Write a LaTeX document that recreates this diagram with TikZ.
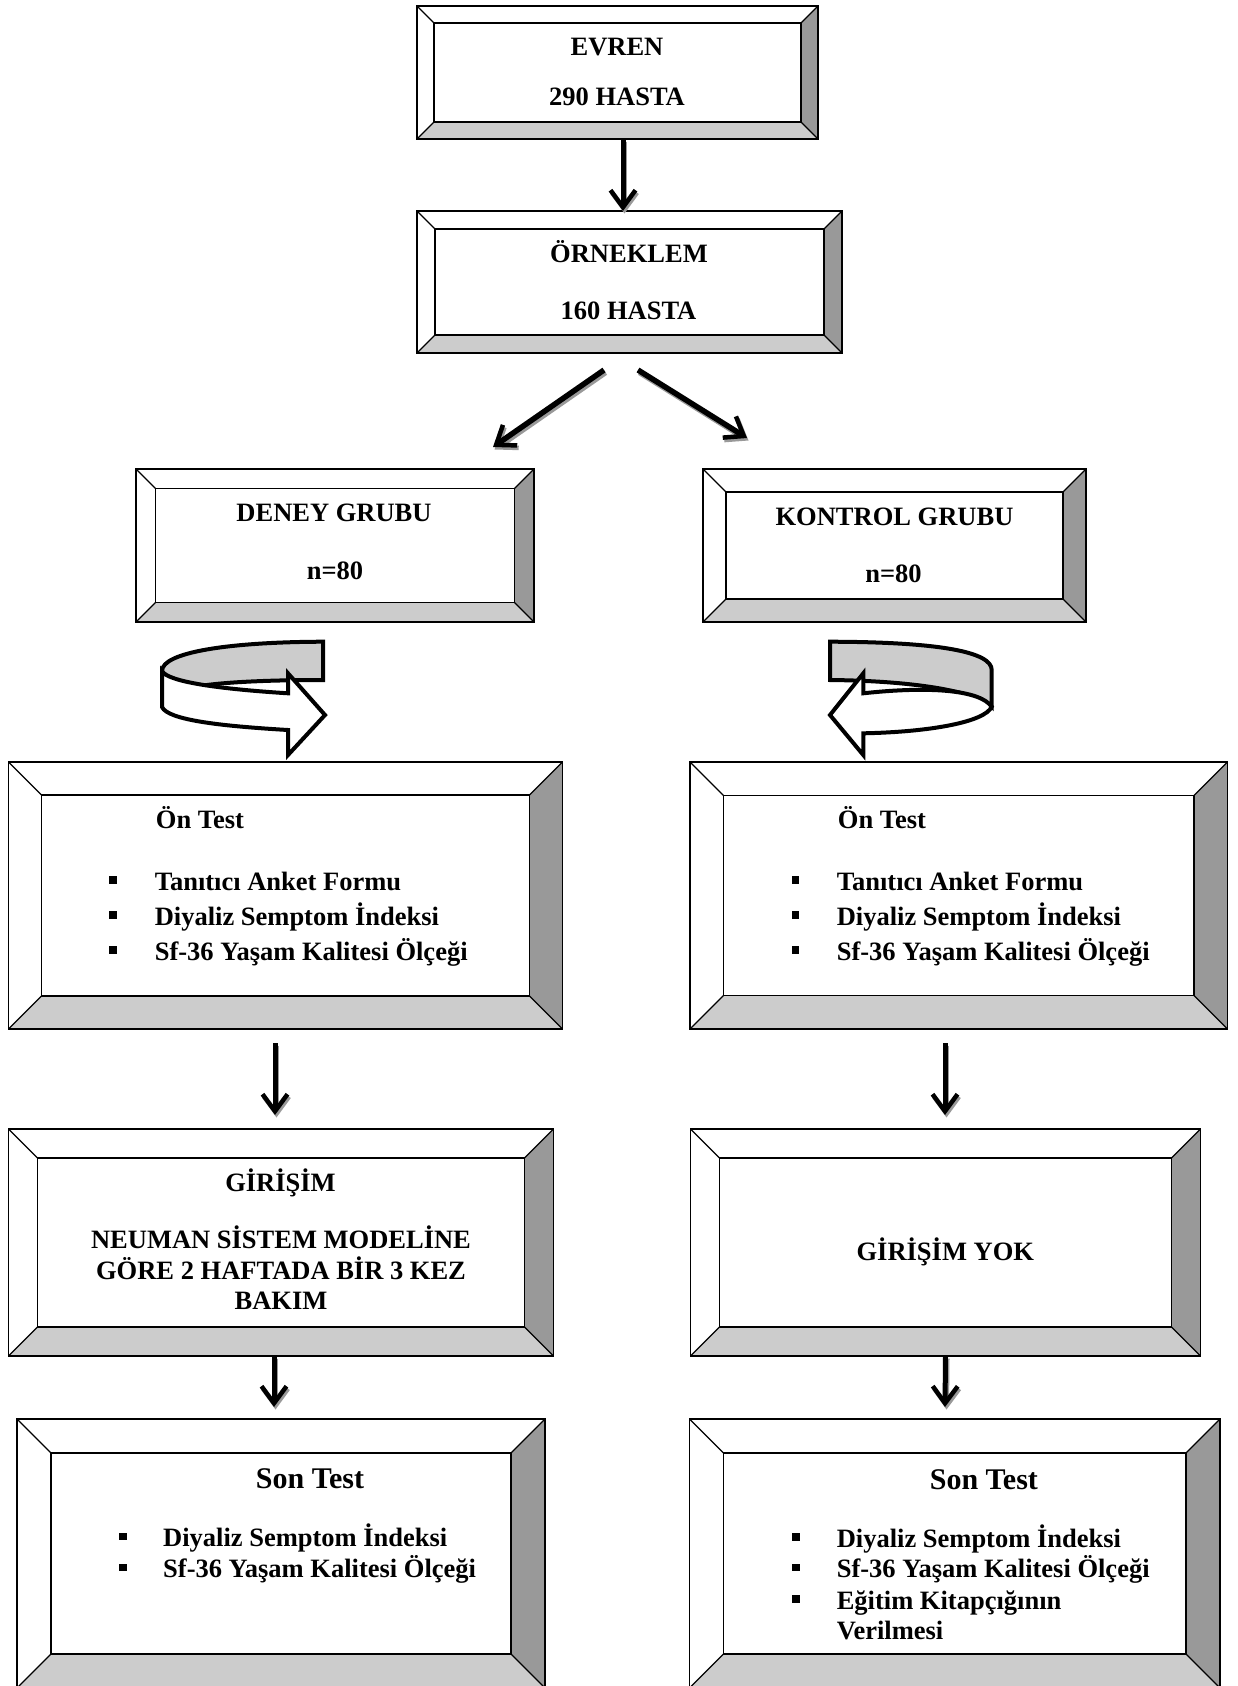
\documentclass[tikz,border=0pt]{standalone}
\usepackage{fontspec}
\setmainfont{Liberation Serif}
\usetikzlibrary{arrows.meta,fit}
\definecolor{rgray}{gray}{0.6}
\definecolor{bgray}{gray}{0.8}
\tikzset{
  boxline/.style={line width=1.9pt},
  bevline/.style={line width=1.2pt},
  txt/.style={font=\fontsize{26.5}{30}\selectfont\bfseries, inner sep=0pt},
  bigtxt/.style={font=\fontsize{30}{34}\selectfont\bfseries, inner sep=0pt},
  arr/.style={line width=5pt, -{Straight Barb[length=17pt,width=25pt,line width=4.5pt]}},
  arrsh/.style={arr, draw=black!40, transform canvas={shift={(1.5pt,-2.5pt)}}},
  ribbon/.style={line width=4pt, line join=miter, miter limit=6},
}
\newcommand\bevelbox[6]{%
  \fill[white] (#2,#3) rectangle (#4,#5);
  \fill[rgray] (#4,#3) -- (#4,#5) -- ({#4-#6},{#5-#6}) -- ({#4-#6},{#3+#6}) -- cycle;
  \fill[bgray] (#2,#5) -- (#4,#5) -- ({#4-#6},{#5-#6}) -- ({#2+#6},{#5-#6}) -- cycle;
  \draw[bevline] (#2,#3) -- ({#2+#6},{#3+#6}) (#4,#3) -- ({#4-#6},{#3+#6})
                 (#2,#5) -- ({#2+#6},{#5-#6}) (#4,#5) -- ({#4-#6},{#5-#6});
  \draw[boxline] ({#2+#6},{#3+#6}) rectangle ({#4-#6},{#5-#6});
  \draw[boxline] (#2,#3) rectangle (#4,#5);
  \node[fit={(#2,#3)(#4,#5)}, inner sep=0pt, outer sep=0pt] (#1) {};
}
\newcommand\sqbul[2]{\fill ({#1-3.75},{#2-3.75}) rectangle ({#1+3.75},{#2+3.75});}
\newcommand\sarrow[3][]{\draw[arrsh,#1] (#2) -- (#3); \draw[arr,#1] (#2) -- (#3);}
\begin{document}
\begin{tikzpicture}[x=1pt,y=-1pt]
\useasboundingbox (0,0) rectangle (1237,1686);
\clip (0,0) rectangle (1237,1686);
\fill[white] (0,0) rectangle (1237,1686);

% boxes
\bevelbox{evren}{417}{6}{818}{139}{17}
\bevelbox{orneklem}{417}{211}{842}{353}{18}
\bevelbox{deney}{136}{469}{534}{622}{19.5}
\bevelbox{kontrol}{703}{469}{1086}{622}{23}
\bevelbox{ontestL}{8.5}{762}{562.5}{1029}{33}
\bevelbox{ontestR}{690}{762}{1227.5}{1029}{33.5}
\bevelbox{girisim}{8.5}{1129}{553.5}{1356}{29}
\bevelbox{girisimyok}{690.5}{1129}{1200.5}{1356}{29}
\bevelbox{sontestL}{17}{1419}{545}{1688}{34}
\bevelbox{sontestR}{689.5}{1419}{1220}{1688}{34}

% texts
\node[txt, anchor=base] (t1) at (617,56) {EVREN};
\node[txt, anchor=base] (t2) at (617,105) {290 HASTA};
\node[txt, anchor=base] (t3) at (629,262.7) {ÖRNEKLEM};
\node[txt, anchor=base] (t4) at (628.5,319) {160 HASTA};
\node[txt, anchor=base] (t5) at (334,521.7) {DENEY GRUBU};
\node[txt, anchor=base] (t6) at (335,579) {n=80};
\node[txt, anchor=base] (t7) at (894.5,525) {KONTROL GRUBU};
\node[txt, anchor=base] (t8) at (893.5,582.7) {n=80};

\node[txt, anchor=base west] (t9) at (155.7,828) {Ön Test};
\node[txt, anchor=base west] (t10) at (154.6,890) {Tanıtıcı Anket Formu};
\node[txt, anchor=base west] (t11) at (154.6,925) {Diyaliz Semptom İndeksi};
\node[txt, anchor=base west] (t12) at (154.6,960) {Sf-36 Yaşam Kalitesi Ölçeği};
\sqbul{113}{880}\sqbul{113}{915}\sqbul{113}{950}

\node[txt, anchor=base west] (t13) at (837.7,828) {Ön Test};
\node[txt, anchor=base west] (t14) at (836.6,890) {Tanıtıcı Anket Formu};
\node[txt, anchor=base west] (t15) at (836.6,925) {Diyaliz Semptom İndeksi};
\node[txt, anchor=base west] (t16) at (836.6,960) {Sf-36 Yaşam Kalitesi Ölçeği};
\sqbul{795.7}{880}\sqbul{795.7}{915}\sqbul{795.7}{950}

\node[txt, anchor=base] (t17) at (280.5,1191) {GİRİŞİM};
\node[txt, anchor=base] (t18) at (281,1248) {NEUMAN SİSTEM MODELİNE};
\node[txt, anchor=base] (t19) at (281,1279) {GÖRE 2 HAFTADA BİR 3 KEZ};
\node[txt, anchor=base] (t20) at (281,1309) {BAKIM};
\node[txt, anchor=base] (t21) at (945.3,1260) {GİRİŞİM YOK};

\node[bigtxt, anchor=base] (t22) at (310,1488) {Son Test};
\node[txt, anchor=base west] (t23) at (163,1546.7) {Diyaliz Semptom İndeksi};
\node[txt, anchor=base west] (t24) at (163,1577.7) {Sf-36 Yaşam Kalitesi Ölçeği};
\sqbul{123}{1536.5}\sqbul{123}{1567.5}

\node[bigtxt, anchor=base] (t25) at (983.9,1489) {Son Test};
\node[txt, anchor=base west] (t26) at (836.6,1547) {Diyaliz Semptom İndeksi};
\node[txt, anchor=base west] (t27) at (836.6,1577.5) {Sf-36 Yaşam Kalitesi Ölçeği};
\node[txt, anchor=base west] (t28) at (836.6,1609) {Eğitim Kitapçığının};
\node[txt, anchor=base west] (t29) at (836.6,1639) {Verilmesi};
\sqbul{796}{1537}\sqbul{796}{1567.5}\sqbul{796}{1599}

% curved arrow left (deney)
\fill[bgray] (323,641.7) -- (323,680) .. controls (270,680) and (225,682) .. (200,686)
  -- (190,700) -- (162,700) -- (162,671) .. controls (162,652) and (230,642) .. (323,641.7) -- cycle;
\draw[ribbon] (162,671) .. controls (162,652) and (230,642) .. (323,641.7) -- (323,680)
  .. controls (270,680) and (225,682) .. (200,686);
\draw[ribbon, fill=white] (162,671) .. controls (168,682) and (220,689) .. (288,693.3)
  -- (288,673.3) -- (325,715) -- (288,755) -- (288,730)
  .. controls (220,726) and (168,720) .. (162,707) -- cycle;

% curved arrow right (kontrol)
\draw[ribbon, fill=bgray] (830,641.7) .. controls (940,642) and (991.7,652) .. (991.7,670)
  -- (991.7,706.7) .. controls (982,695) and (930,681) .. (830,680) -- cycle;
\draw[ribbon, fill=white] (863.3,693.3) .. controls (930,686) and (980,690) .. (991.7,706.7)
  .. controls (985,722) and (930,732) .. (863.3,733.3) -- (863.3,755) -- (830,715)
  -- (863.3,673.3) -- cycle;

% connectors
\coordinate (d1s) at (604,370);
\coordinate (d1e) at (493,447);
\coordinate (d2s) at (638,370);
\coordinate (d2e) at (747,438);
\coordinate (c4s) at (275,1043);
\coordinate (c4e) at (275,1115);
\coordinate (c5s) at (945,1043);
\coordinate (c5e) at (945,1115);
\coordinate (c6e) at (274,1407);
\coordinate (c7e) at (945,1407);

\sarrow{[xshift=5.5pt]evren.south}{[xshift=-6.5pt]orneklem.north}
\sarrow[line width=5.5pt]{d1s}{d1e}
\sarrow[line width=5.5pt]{d2s}{d2e}
\sarrow{c4s}{c4e}
\sarrow{c5s}{c5e}
\sarrow{[xshift=-7pt]girisim.south}{c6e}
\sarrow{girisimyok.south}{c7e}
\end{tikzpicture}
\end{document}
